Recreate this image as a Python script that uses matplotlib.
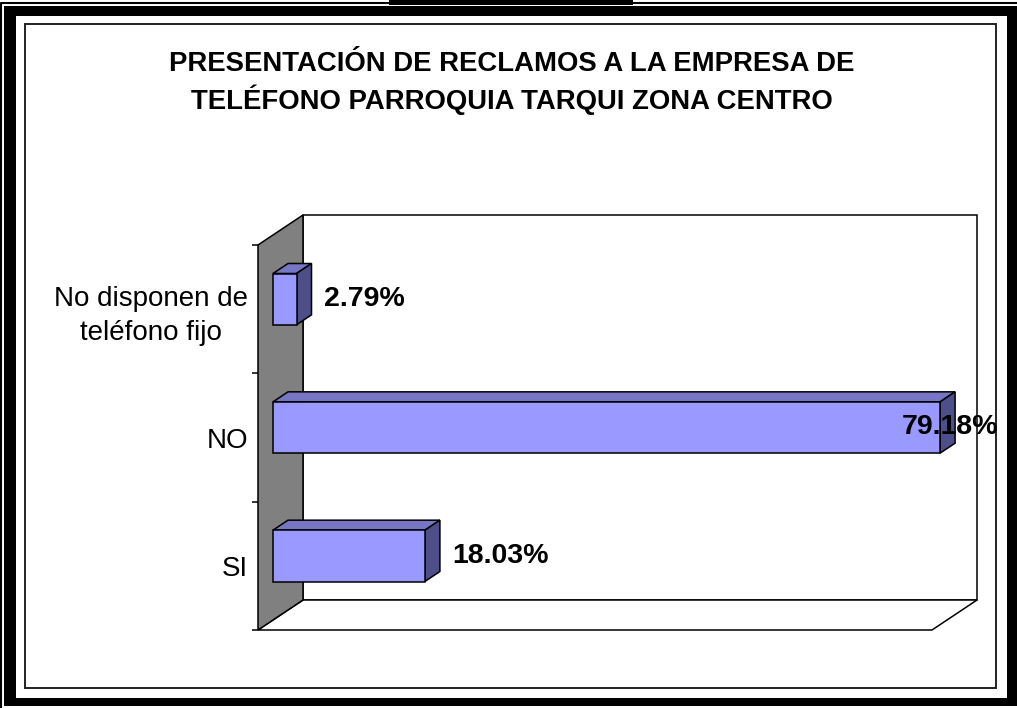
import matplotlib
matplotlib.use("Agg")
import matplotlib.pyplot as plt
from matplotlib.patches import Polygon, Rectangle
from matplotlib import transforms as mtransforms

plt.rcParams['font.family'] = ['Liberation Sans', 'DejaVu Sans']

## data
title = "PRESENTACIÓN DE RECLAMOS A LA EMPRESA DE\nTELÉFONO PARROQUIA TARQUI ZONA CENTRO"
categories = ["SI", "NO", "No disponen de\nteléfono fijo"]
percentages = [18.03, 79.18, 2.79]
value_labels = ["18.03%", "79.18%", "2.79%"]
x_max = 80

# colours of the 3d boxes
FRONT = '#9999FF'
TOP = '#7676C4'
SIDE = '#4E4E88'
WALL = '#808080'

W, H = 1017, 708
fig = plt.figure(figsize=(W / 100, H / 100), dpi=100)

## page frame, drawn in pixel units
frame = fig.add_axes([0, 0, 1, 1], zorder=0)
frame.set_xlim(0, W)
frame.set_ylim(H, 0)
frame.axis('off')


def px_rect(x0, y0, x1, y1, **kw):
    frame.add_patch(Rectangle((x0, y0), x1 - x0, y1 - y0, **kw))


frame.plot([1, 1, W], [H, 3, 3], color='black', lw=1.5)
px_rect(4, 6, W, 706, color='black', lw=0)
px_rect(16, 16, 1007, 698, color='white', lw=0)
px_rect(389, 0, 633, 5, color='black', lw=0)
px_rect(25, 24, 996, 688, fill=False, ec='#222222', lw=1.4)

fig.text(0.503, 1 - 83 / H, title, ha='center', va='center',
         fontsize=19.8, weight='bold', linespacing=1.33)

## chart area (front plane of the box)
left, right, top, bottom = 258, 932, 245, 630
ax = fig.add_axes([left / W, 1 - bottom / H, (right - left) / W, (bottom - top) / H], zorder=1)
ax.set_xlim(0, x_max)
ax.set_ylim(-0.5, len(categories) - 0.5)
ax.patch.set_visible(False)
for s in ax.spines.values():
    s.set_visible(False)
ax.set_xticks([])

# depth of the box in data units
xs = x_max / (right - left)
ys = len(categories) / (bottom - top)
dx, dy = 45 * xs, 30 * ys
y0, y1 = -0.5, len(categories) - 0.5

kw = dict(ec='black', lw=1.1, clip_on=False, joinstyle='miter')
ax.add_patch(Rectangle((dx, y0 + dy), x_max, y1 - y0, fc='white', **kw))
ax.add_patch(Polygon([(0, y0), (x_max, y0), (x_max + dx, y0 + dy), (dx, y0 + dy)],
                     fc='white', **kw))
ax.add_patch(Polygon([(0, y0), (dx, y0 + dy), (dx, y1 + dy), (0, y1)], fc=WALL, **kw))

# bars sit in the middle third of the depth
f1, f2 = 1 / 3, 2 / 3
half = 0.2
for i, v in enumerate(percentages):
    ox, oy = f1 * dx, f1 * dy
    bx, by = f2 * dx, f2 * dy
    lo, hi = i - half, i + half
    ax.add_patch(Polygon([(ox, hi + oy), (v + ox, hi + oy), (v + bx, hi + by), (bx, hi + by)],
                         fc=TOP, **kw))
    ax.add_patch(Polygon([(v + ox, lo + oy), (v + bx, lo + by), (v + bx, hi + by), (v + ox, hi + oy)],
                         fc=SIDE, **kw))
    ax.add_patch(Rectangle((ox, lo + oy), v, hi - lo, fc=FRONT, **kw))

# value labels to the right of each bar, kept inside the frame
frame_edge = mtransforms.blended_transform_factory(fig.transFigure, ax.transData)
for i, (v, txt) in enumerate(zip(percentages, value_labels)):
    x = v + f2 * dx + 12 * xs
    y = i + f1 * dy
    if x + 100 * xs > x_max + dx:
        ax.text(998 / W, y, txt, transform=frame_edge, ha='right', va='center',
                fontsize=20.5, weight='bold', clip_on=False)
    else:
        ax.text(x, y, txt, ha='left', va='center', fontsize=20.5, weight='bold', clip_on=False)

# category labels with tick marks between the bands
ax.set_yticks(range(len(categories)), categories)
ax.set_yticks([k - 0.5 for k in range(len(categories) + 1)], minor=True)
ax.tick_params(axis='y', which='major', length=0, pad=7, labelsize=20)
ax.tick_params(axis='y', which='minor', length=4, width=1.1, color='black', direction='out')
for t in ax.get_yticklabels():
    t.set_multialignment('center')
    t.set_linespacing(1.4)

fig.savefig('out.png', dpi=100)
